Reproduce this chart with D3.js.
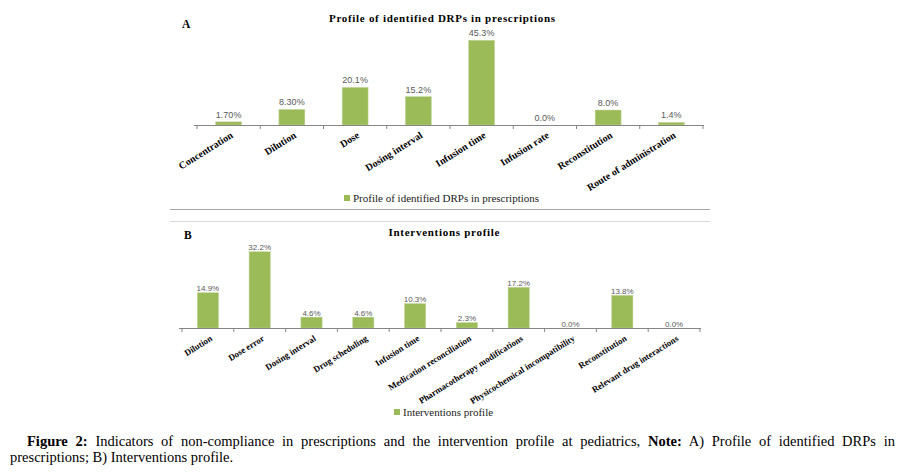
<!DOCTYPE html>
<html>
<head>
<meta charset="utf-8">
<script src="https://cdn.jsdelivr.net/npm/d3@7"></script>
<style>
  body { margin: 0; background: #fff; }
  svg { display: block; }
</style>
</head>
<body>
<svg id="chart" width="904" height="474"></svg>
<script>
// Panel A: profile of identified DRPs
const categoriasA = ['Concentration', 'Dilution', 'Dose', 'Dosing interval', 'Infusion time',
  'Infusion rate', 'Reconstitution', 'Route of administration'];
const valoresA = [1.7, 8.3, 20.1, 15.2, 45.3, 0.0, 8.0, 1.4];
const etiquetasA = ['1.70%', '8.30%', '20.1%', '15.2%', '45.3%', '0.0%', '8.0%', '1.4%'];

// Panel B: interventions profile
const categoriasB = ['Dilution', 'Dose error', 'Dosing interval', 'Drug scheduling', 'Infusion time',
  'Medication reconciliation', 'Pharmacotherapy modifications', 'Physicochemical incompatibility',
  'Reconstitution', 'Relevant drug interactions'];
const valoresB = [14.9, 32.2, 4.6, 4.6, 10.3, 2.3, 17.2, 0.0, 13.8, 0.0];
const etiquetasB = ['14.9%', '32.2%', '4.6%', '4.6%', '10.3%', '2.3%', '17.2%', '0.0%', '13.8%', '0.0%'];

const serif = "'Liberation Serif', 'Times New Roman', 'DejaVu Serif', serif";
const sans = "'Liberation Sans', Arial, sans-serif";
const verde = '#9bbb59';
const grisEje = '#868686';
const grisTexto = '#595959';

const svg = d3.select('#chart');

const drawPanel = p => {
  const g = svg.append('g');

  const x = d3.scaleBand()
    .domain(p.categorias)
    .range([p.x0, p.x1])
    .paddingInner(0.59)
    .paddingOuter(0.295);

  // band edges for the tick marks
  const paso = (p.x1 - p.x0) / p.categorias.length;
  const bordes = d3.range(p.categorias.length + 1).map(i => p.x0 + i * paso);

  const y = d3.scaleLinear()
    .domain([0, p.max])
    .range([p.base, p.base - p.max * p.pxPorUnidad]);

  g.append('text')
    .attr('font-family', serif)
    .attr('x', p.letraX).attr('y', p.letraY)
    .attr('font-size', 11.5).attr('font-weight', 'bold')
    .text(p.letra);

  g.append('text')
    .attr('font-family', serif)
    .attr('x', p.tituloX - p.tituloAncho / 2).attr('y', p.tituloY)
    .attr('font-size', 11).attr('font-weight', 'bold')
    .attr('textLength', p.tituloAncho)
    .attr('lengthAdjust', 'spacing')
    .text(p.titulo);

  g.selectAll('rect.bar')
    .data(p.valores)
    .enter().append('rect')
    .attr('class', 'bar')
    .attr('x', (d, i) => x(p.categorias[i]))
    .attr('width', x.bandwidth())
    .attr('y', d => y(d))
    .attr('height', d => p.base - y(d))
    .attr('fill', verde)
    .attr('stroke', '#c3d69b')
    .attr('stroke-width', 0.5);

  g.selectAll('text.valor')
    .data(p.valores)
    .enter().append('text')
    .attr('class', 'valor')
    .attr('font-family', sans)
    .attr('x', (d, i) => x(p.categorias[i]) + x.bandwidth() / 2)
    .attr('y', d => y(d) - p.sepEtiqueta)
    .attr('text-anchor', 'middle')
    .attr('font-size', p.tamEtiqueta)
    .attr('fill', grisTexto)
    .text((d, i) => p.etiquetas[i]);

  // axis line with ticks at band edges
  g.append('line')
    .attr('x1', p.x0 - 3).attr('x2', p.x1 + 1)
    .attr('y1', p.base + 0.5).attr('y2', p.base + 0.5)
    .attr('stroke', grisEje);
  g.selectAll('line.tick')
    .data(bordes)
    .enter().append('line')
    .attr('class', 'tick')
    .attr('x1', d => d).attr('x2', d => d)
    .attr('y1', p.base).attr('y2', p.base + 4)
    .attr('stroke', grisEje);

  g.selectAll('text.cat')
    .data(p.categorias)
    .enter().append('text')
    .attr('class', 'cat')
    .attr('font-family', serif)
    .attr('transform', d => `translate(${x(d) + x.bandwidth() / 2 + 5},${p.base + 12}) rotate(-32)`)
    .attr('text-anchor', 'end')
    .attr('font-size', p.tamCategoria).attr('font-weight', 'bold')
    .text(d => d);

  // legend
  const ley = g.append('g').attr('transform', `translate(${p.leyendaX},${p.leyendaY})`);
  ley.append('rect')
    .attr('x', 0).attr('y', -3)
    .attr('width', 6).attr('height', 6)
    .attr('fill', verde);
  ley.append('text')
    .attr('font-family', serif)
    .attr('x', 9).attr('y', 3.5)
    .attr('font-size', 11)
    .attr('fill', '#222')
    .text(p.titulo);
};

drawPanel({
  categorias: categoriasA, valores: valoresA, etiquetas: etiquetasA,
  titulo: 'Profile of identified DRPs in prescriptions', letra: 'A',
  x0: 197, x1: 703, base: 125, max: 50, pxPorUnidad: 1.87,
  letraX: 182, letraY: 28, tituloX: 442, tituloY: 22, tituloAncho: 226,
  sepEtiqueta: 4, tamEtiqueta: 9, tamCategoria: 10,
  leyendaX: 344, leyendaY: 198
});

drawPanel({
  categorias: categoriasB, valores: valoresB, etiquetas: etiquetasB,
  titulo: 'Interventions profile', letra: 'B',
  x0: 182, x1: 700, base: 328, max: 35, pxPorUnidad: 2.37,
  letraX: 184, letraY: 239, tituloX: 444, tituloY: 236, tituloAncho: 111,
  sepEtiqueta: 1.5, tamEtiqueta: 8, tamCategoria: 8.8,
  leyendaX: 394, leyendaY: 412
});

// separator lines between the two panels
svg.append('line').attr('x1', 170).attr('x2', 710).attr('y1', 209.5).attr('y2', 209.5)
  .attr('stroke', '#a6a6a6');
svg.append('line').attr('x1', 170).attr('x2', 710).attr('y1', 221.5).attr('y2', 221.5)
  .attr('stroke', '#d9d9d9');

// caption, first line justified to the right edge
const linea1 = [
  { t: 'Figure 2:', b: true },
  { t: ' Indicators of non-compliance in prescriptions and the intervention profile at pediatrics, ', b: false },
  { t: 'Note:', b: true },
  { t: ' A) Profile of identified DRPs in', b: false }
];
const cap1 = svg.append('text')
  .attr('font-family', serif)
  .attr('x', 27).attr('y', 446)
  .attr('font-size', 14.5).attr('fill', '#000')
  .attr('xml:space', 'preserve');
cap1.selectAll('tspan')
  .data(linea1)
  .enter().append('tspan')
  .attr('font-weight', d => (d.b ? 'bold' : 'normal'))
  .text(d => d.t);

const ancho = cap1.node().getComputedTextLength();
const espacios = linea1.map(d => d.t).join('').split(' ').length - 1;
cap1.attr('word-spacing', (895 - 27 - ancho) / espacios);

svg.append('text')
  .attr('font-family', serif)
  .attr('x', 10).attr('y', 462)
  .attr('font-size', 14.5).attr('fill', '#000')
  .text('prescriptions; B) Interventions profile.');
</script>
</body>
</html>
